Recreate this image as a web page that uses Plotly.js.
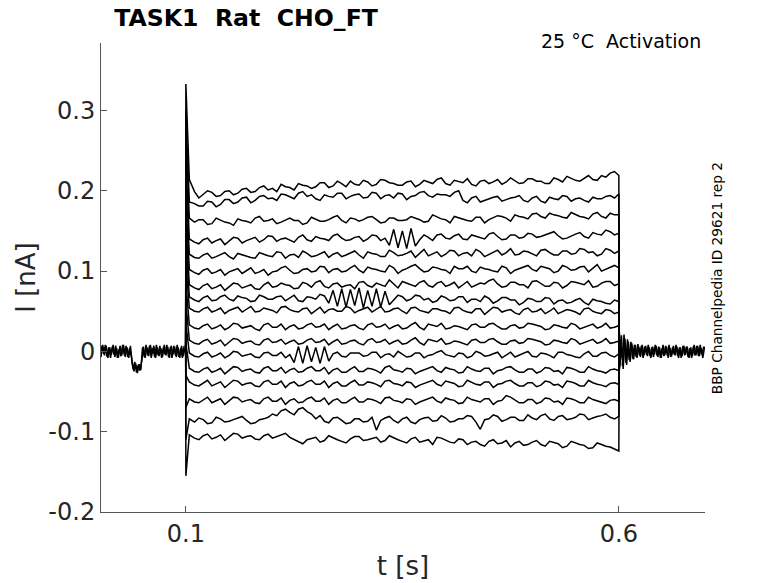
<!DOCTYPE html>
<html>
<head>
<meta charset="utf-8">
<script src="https://cdn.plot.ly/plotly-3.0.1.min.js"></script>
<style>
  body { margin: 0; background: #fff; }
  #plot { width: 778px; height: 583px; }
</style>
</head>
<body>
<div id="plot"></div>
<script>
// currents in pA, converted to nA when drawn

// before the step: t = 0 .. 0.098 s every 2 ms, and a second sweep offset by 1 ms
var preBase = [4, -7, 8, -5, 7, -8, 5, -4, 8, -7,
  4, -8, 7, -5, 8, -7, 5, -8, 7, -14,
  -25, -15, -27, -16, -23, 5, -7, 8, -5, 7,
  -8, 4, -7, 8, -5, 7, -8, 5, -4, 8,
  -7, 5, -8, 7, -5, 8, -7, 4, -8, 7];
var preBaseB = [-6, 7, -3, 8, -7, 5, -8, 6, -4, 7,
  -8, 3, -6, 8, -5, 7, -7, 4, -6, -22,
  -13, -26, -17, -24, -12, 6, -8, 5, -6, 8,
  -3, 7, -8, 5, -6, 4, -7, 8, -5, 6,
  -8, 7, -4, 6, -7, 5, -8, 7, -6, 4];

// after the step: t = 0.603 .. 0.699 s every 2 ms, and a second sweep from 0.604 s
var postBase = [20, -22, 16, -17, 12, -13, 10, -10, 8, -8,
  6, -7, 8, -5, 7, -6, 5, -8, 6, -4,
  7, -7, 5, -8, 8, -5, 6, -8, 4, -6,
  7, -5, 6, -8, 5, -6, 7, -4, 6, -8,
  5, -6, 8, -5, 7, -6, 4, -8, 6];
var postBaseB = [-18, 21, -14, 15, -11, 12, -9, 8, -7, 9,
  -5, 7, -8, 6, -4, 8, -6, 5, -7, 8,
  -5, 6, -8, 4, -6, 7, -5, 8, -7, 5,
  -4, 8, -6, 5, -8, 7, -5, 6, -7, 4,
  -8, 6, -5, 7, -6, 8, -4, 6];

// capacitive peak at t = 0.1 s, one per sweep
var spike = [333, 300, 270, 240, 210, 185, 160, 135, 110, 85, 60, 35, 10, -30, -70, -110, -155];

// value just after the step ends (t = 0.6005 s)
var tail = [-24, -21, -18, -15, -12, -9, -6, -4, -2, 0, 2, 4, 7, 10, 14, 18, 24];

// sweeps during the step: t = 0.104, 0.11, 0.12 ... 0.60 s
var sweeps = [
  [214,199,195,198,194,200,197,203,199,206, 203,208,204,209,206,205,210,206,209,212, 207,211,208,213,209,207,212,208,211,214, 209,213,210,208,212,209,214,211,213,210, 215,212,209,214,218,213,216,214,219,222, 219],
  [186,184,181,186,183,189,186,192,188,194, 191,196,192,197,193,190,195,192,197,193, 196,192,197,194,191,196,193,198,194,196, 195,198,188,191,186,190,193,189,192,188, 191,187,192,189,193,190,188,192,190,194, 196],
  [166,161,164,159,163,160,165,162,166,162, 165,161,166,163,160,165,162,167,163,166, 162,167,164,161,166,163,168,164,162,167, 164,168,165,162,167,164,169,166,170,167, 171,168,172,169,166,170,167,171,168,172, 170],
  [140,136,139,135,140,137,141,138,142,139, 143,140,138,142,139,143,140,144,141,139, 143,140,144,141,152,150,153,139,142,145, 141,144,140,145,142,146,143,140,145,142, 146,143,147,144,141,146,143,148,145,149, 147],
  [121,117,120,116,121,118,122,119,116,121, 118,123,120,117,122,119,124,121,118,123, 120,124,121,118,123,120,125,122,119,124, 121,125,122,119,124,121,126,123,120,125, 122,126,123,120,125,122,127,124,121,126, 125],
  [102,98,101,97,102,99,103,100,97,102, 99,104,101,98,103,100,105,102,99,104, 101,105,102,99,104,101,106,103,100,104, 101,106,103,100,105,102,99,104,101,105, 102,106,103,100,105,102,106,103,100,105, 104],
  [83,79,82,78,83,80,84,81,78,83, 80,85,82,79,84,86,81,84,80,83, 86,82,85,81,84,87,83,86,82,85, 81,86,83,80,85,88,84,81,86,83, 87,84,81,85,82,86,83,80,85,87, 84],
  [68,64,67,63,68,65,69,66,63,68, 65,69,66,63,68,65,69,76,78,77, 79,76,78,75,64,68,65,69,66,63, 67,64,68,65,62,66,63,67,64,61, 65,62,66,63,60,64,61,65,62,59, 62],
  [54,50,53,49,54,51,55,52,49,54, 51,55,52,49,54,51,48,53,50,54, 51,55,52,49,53,50,54,51,48,53, 50,54,51,48,53,50,54,51,48,52, 49,53,50,47,52,49,53,50,47,51, 49],
  [33,29,32,28,33,30,34,31,28,33, 30,34,31,28,33,30,34,31,28,32, 29,33,30,34,31,28,33,30,34,31, 28,32,29,33,30,34,31,28,33,30, 34,31,28,32,29,33,30,34,31,29, 32],
  [14,10,13,9,14,11,15,12,9,14, 11,15,12,9,14,11,15,12,9,13, 10,14,11,15,12,9,14,11,15,12, 9,13,10,14,11,15,12,9,14,11, 15,12,9,13,10,14,11,15,12,10, 13],
  [-2,-6,-3,-7,-2,-5,-1,-4,-7,-2, -5,-1,-4,6,7,5,6,-3,-6,-2, -2,-5,-1,-4,-7,-3,-6,-2,-5,-1, -4,-7,-3,-6,-2,-5,-1,-4,-7,-3, -6,-2,-5,-1,-4,-7,-3,-6,-2,-5, -3],
  [-21,-25,-22,-26,-21,-24,-20,-23,-26,-21, -24,-20,-23,-26,-21,-24,-20,-23,-26,-22, -25,-21,-24,-20,-23,-26,-22,-25,-21,-24, -20,-23,-26,-22,-25,-21,-24,-20,-23,-26, -22,-25,-21,-24,-20,-23,-26,-22,-25,-23, -24],
  [-38,-42,-39,-43,-38,-41,-37,-40,-43,-38, -41,-37,-40,-43,-38,-41,-37,-40,-43,-39, -42,-38,-41,-37,-40,-43,-39,-42,-38,-41, -37,-40,-43,-39,-42,-38,-41,-37,-40,-43, -39,-42,-38,-41,-37,-40,-43,-39,-42,-40, -41],
  [-59,-63,-60,-64,-59,-62,-58,-61,-64,-59, -62,-58,-61,-64,-59,-62,-58,-61,-64,-60, -63,-59,-62,-58,-61,-64,-60,-63,-59,-62, -58,-61,-64,-60,-63,-59,-62,-55,-61,-64, -60,-63,-59,-62,-58,-61,-64,-60,-63,-61, -62],
  [-84,-88,-85,-89,-84,-87,-83,-86,-89,-84, -78,-74,-76,-72,-75,-84,-87,-83,-86,-89, -84,-87,-98,-83,-86,-84,-88,-85,-82,-86, -83,-87,-84,-81,-97,-84,-81,-85,-82,-86, -83,-80,-84,-81,-85,-82,-79,-83,-80,-82, -81],
  [-104,-108,-105,-109,-104,-107,-103,-106,-109,-105, -108,-104,-107,-113,-110,-107,-111,-108,-112,-109, -106,-110,-107,-111,-108,-112,-109,-113,-110,-107, -111,-114,-110,-113,-116,-112,-115,-111,-114,-117, -113,-116,-112,-115,-118,-114,-117,-120,-116,-119, -124]
];

// in-between samples of the same sweeps: t = 0.115, 0.125 ... 0.595 s
var sweepsMid = [
  [191,200,193,199,195,202,198,204,201,199, 205,201,207,203,210,204,212,205,208,213, 206,214,210,207,211,205,213,209,216,207, 211,215,206,213,211,208,216,209,215,212, 209,216,211,215,212,219,213,217,224],
  [181,187,180,189,184,191,185,193,190,188, 195,190,199,195,188,193,197,190,195,191, 198,190,195,197,189,194,199,192,195,193, 200,185,193,188,192,187,191,194,186,193, 185,190,194,187,191,186,190,193,191],
  [164,158,166,161,157,163,160,168,163,159, 164,163,158,167,162,164,169,160,165,164, 168,160,166,163,164,166,161,170,165,160, 166,163,167,160,166,168,162,168,165,172, 166,170,167,173,168,165,173,166,170],
  [134,141,138,133,142,135,140,136,144,137, 141,136,145,137,141,138,146,138,142,137, 145,138,132,129,128,131,145,138,146,140, 146,139,143,140,148,139,145,141,147,142, 145,149,140,144,148,141,146,151,145],
  [116,122,118,123,115,120,117,123,119,124, 116,121,125,118,122,117,123,120,125,116, 122,118,126,119,122,117,127,121,118,126, 119,123,127,118,124,120,128,121,124,119, 127,120,125,121,128,123,119,128,122],
  [96,103,99,95,101,97,104,99,95,100, 106,97,102,99,106,98,103,100,107,98, 103,100,107,97,103,108,99,105,102,97, 103,106,98,103,100,106,97,103,107,100, 104,98,107,101,105,99,108,102,107],
  [77,84,80,76,85,79,83,77,86,81, 83,78,86,80,88,79,85,82,78,87, 80,83,89,79,85,81,88,80,87,83, 79,87,82,84,90,80,86,83,79,88, 81,86,79,87,84,88,81,87,82],
  [62,69,64,70,63,67,62,70,65,68, 63,70,62,67,71,60,56,55,57,54, 56,55,58,70,63,70,64,61,69,63, 68,61,65,69,60,67,64,58,66,62, 67,59,64,61,66,58,63,60,64],
  [49,55,51,47,53,49,56,50,52,48, 56,50,53,47,55,52,50,56,48,53, 49,56,50,54,47,55,49,53,51,47, 55,49,53,46,55,49,52,46,54,50, 47,54,49,51,46,54,48,52,47],
  [28,34,30,27,35,29,32,26,35,30, 27,33,29,35,31,27,34,29,33,27, 35,31,28,33,29,36,27,32,35,29, 31,27,34,30,35,28,32,29,35,32, 27,33,30,35,28,32,29,35,30],
  [9,15,11,7,16,10,13,8,16,12, 9,14,10,16,12,8,15,10,14,8, 16,12,9,14,10,17,8,13,16,10, 12,8,15,11,16,9,13,10,16,13, 8,14,11,16,9,13,10,16,11],
  [-7,-1,-5,-8,0,-6,-3,-8,-1,-5, -8,-14,-15,-13,-15,-12,-1,-7,-2,-6, -1,-8,-3,0,-7,-2,-8,-4,1,-6, -2,-8,0,-6,-3,-8,-1,-5,0,-7, -3,-8,-1,-5,-8,0,-6,-1,-7],
  [-26,-20,-24,-28,-19,-25,-22,-27,-19,-24, -27,-21,-25,-19,-24,-28,-21,-26,-19,-25, -22,-27,-18,-24,-21,-28,-23,-19,-26,-22, -27,-19,-24,-21,-28,-23,-19,-26,-22,-27, -20,-25,-28,-21,-26,-19,-24,-27,-22],
  [-43,-36,-41,-45,-36,-42,-39,-44,-36,-41, -45,-38,-42,-36,-41,-45,-38,-43,-36,-42, -39,-44,-36,-41,-38,-45,-40,-36,-43,-39, -44,-36,-41,-38,-45,-40,-36,-43,-39,-44, -37,-42,-45,-38,-43,-36,-41,-44,-39],
  [-64,-57,-62,-66,-57,-63,-60,-65,-57,-62, -66,-59,-63,-57,-62,-66,-59,-64,-57,-63, -60,-65,-57,-62,-59,-66,-61,-57,-64,-60, -65,-57,-62,-59,-66,-61,-57,-64,-60,-65, -58,-63,-66,-59,-64,-57,-62,-65,-60],
  [-83,-90,-82,-88,-85,-81,-90,-85,-82,-80, -72,-79,-70,-78,-80,-89,-82,-90,-84,-88, -82,-86,-81,-89,-82,-90,-83,-87,-80,-88, -84,-80,-88,-85,-79,-87,-82,-86,-79,-85, -78,-86,-80,-84,-78,-85,-81,-78,-84],
  [-110,-103,-107,-111,-102,-108,-105,-110,-103,-106, -102,-110,-115,-108,-113,-105,-110,-114,-106,-111, -108,-113,-105,-110,-114,-107,-111,-116,-108,-113, -109,-116,-112,-118,-110,-114,-119,-112,-116,-111, -118,-114,-120,-112,-116,-121,-114,-118,-122]
];

var xTicks = [0.1, 0.6];
var xTickText = ["0.1", "0.6"];
var yTicks = [-0.2, -0.1, 0, 0.1, 0.2, 0.3];
var yTickText = ["-0.2", "-0.1", "0", "0.1", "0.2", "0.3"];

function toNA(arr) { return arr.map(function (v) { return v / 1000; }); }
function timesFrom(arr, startMs) {
  return arr.map(function (v, i) { return (startMs + i * 2) / 1000; });
}

var line = { color: "#000000", width: 1.5 };
var data = [];

[[preBase, 0], [preBaseB, 1], [postBase, 603], [postBaseB, 604]].forEach(function (b) {
  data.push({ x: timesFrom(b[0], b[1]), y: toNA(b[0]), type: "scatter", mode: "lines", line: line, hoverinfo: "skip" });
});

sweeps.forEach(function (s, i) {
  var m = sweepsMid[i];
  var xs = [0.0998, 0.1, 0.104];
  var ys = [0, spike[i], s[0]];
  for (var k = 1; k < s.length; k++) {
    xs.push((100 + k * 10) / 1000);
    ys.push(s[k]);
    if (k < s.length - 1) {
      xs.push((105 + k * 10) / 1000);
      ys.push(m[k - 1]);
    }
  }
  xs.push(0.6005, 0.603);
  ys.push(tail[i], 0);
  data.push({
    x: xs,
    y: toNA(ys),
    type: "scatter",
    mode: "lines",
    name: "sweep " + (i + 1),
    line: line
  });
});

var axisCommon = {
  showline: true,
  linecolor: "#555555",
  linewidth: 1,
  ticks: "inside",
  ticklen: 6,
  tickcolor: "#555555",
  showgrid: false,
  zeroline: false,
  mirror: false,
  tickmode: "array",
  tickfont: { family: "DejaVu Sans", size: 24, color: "#262626" }
};

var layout = {
  width: 778,
  height: 583,
  margin: { l: 101, r: 73, t: 43, b: 71 },
  paper_bgcolor: "#ffffff",
  plot_bgcolor: "#ffffff",
  showlegend: false,
  font: { family: "DejaVu Sans", color: "#000000" },
  title: {
    text: "<b>TASK1\u00a0\u00a0Rat\u00a0\u00a0CHO_FT</b>",
    font: { family: "DejaVu Sans", size: 23.6, color: "#000000" },
    xref: "paper", x: 0.022, xanchor: "left",
    yref: "container", y: 0.969, yanchor: "middle"
  },
  xaxis: Object.assign({}, axisCommon, {
    range: [0.002, 0.6995],
    tickvals: xTicks,
    ticktext: xTickText,
    title: { text: "t [s]", font: { family: "DejaVu Sans", size: 26, color: "#262626" }, standoff: 10 }
  }),
  yaxis: Object.assign({}, axisCommon, {
    range: [-0.2, 0.384],
    tickvals: yTicks,
    ticktext: yTickText,
    title: { text: "I [nA]", font: { family: "DejaVu Sans", size: 26, color: "#262626" }, standoff: 5 }
  }),
  annotations: [
    {
      text: "25 °C\u00a0\u00a0Activation",
      xref: "paper", yref: "paper",
      x: 0.9967, y: 1.004, xanchor: "right", yanchor: "middle",
      showarrow: false,
      font: { family: "DejaVu Sans", size: 19, color: "#000000" }
    },
    {
      text: "BBP Channelpedia ID 29621 rep 2",
      xref: "paper", yref: "paper",
      x: 1.02, y: 0.4986, xanchor: "center", yanchor: "middle",
      textangle: -90,
      showarrow: false,
      font: { family: "DejaVu Sans", size: 13.7, color: "#000000" }
    }
  ]
};

Plotly.newPlot("plot", data, layout, { displayModeBar: false, staticPlot: true });
</script>
</body>
</html>
